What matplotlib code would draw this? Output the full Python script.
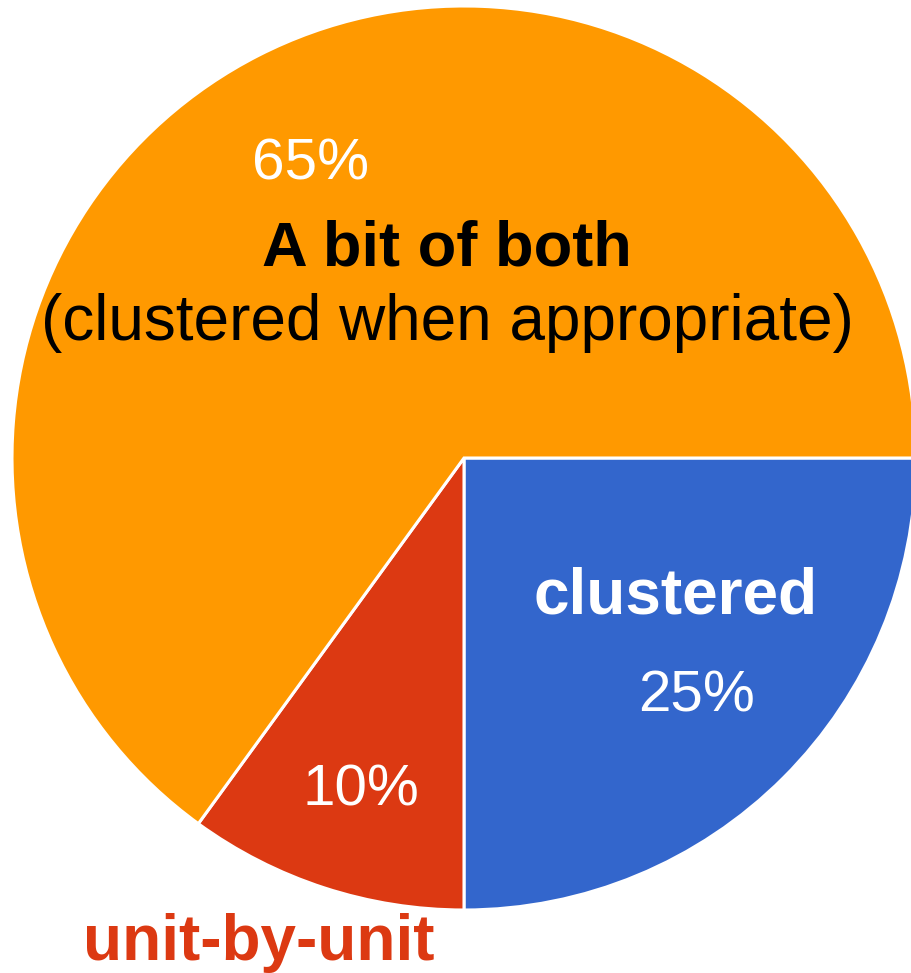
#!/usr/bin/env python3
"""
Pie chart: clustered vs unit-by-unit vs a bit of both.
"""
import matplotlib.pyplot as plt

plt.rcParams["font.family"] = ["Liberation Sans", "DejaVu Sans"]

categories = ["clustered", "unit-by-unit", "A bit of both"]
shares = [25, 10, 65]
colors = ["#3366CC", "#DC3912", "#FF9900"]

# pixel geometry of the reference: centre (464, 458), radius 452
CX, CY, R = 464, 458, 452
W, H = 911, 973


def px(x, y):
    return (x - CX) / R, (CY - y) / R


fig = plt.figure(figsize=(W / 100, H / 100), dpi=100)
ax = fig.add_axes([0, 0, 1, 1])
wedges, _ = ax.pie(shares, colors=colors, startangle=0, counterclock=False,
                   radius=1.0, wedgeprops=dict(edgecolor="white", linewidth=2.2))
ax.set_xlim(-CX / R, (W - CX) / R)
ax.set_ylim((CY - H) / R, CY / R)
ax.set_aspect("equal")
ax.axis("off")

# percentage labels
pct_pos = {"clustered": (697, 712), "unit-by-unit": (361, 806), "A bit of both": (311, 180)}
for cat, val in zip(categories, shares):
    x, y = px(*pct_pos[cat])
    ax.text(x, y, f"{val}%", color="white", fontsize=42, ha="center", va="baseline")

# category labels
x, y = px(447, 265)
ax.text(x, y, "A bit of both", fontsize=45.5, fontweight="bold", color="black",
        ha="center", va="baseline")
x, y = px(447, 340)
ax.text(x, y, "(clustered when appropriate)", fontsize=46, color="black",
        ha="center", va="baseline")
x, y = px(676, 613)
ax.text(x, y, "clustered", fontsize=46, fontweight="bold", color="white",
        ha="center", va="baseline")
x, y = px(259, 960)
ax.text(x, y, "unit-by-unit", fontsize=46, fontweight="bold", color="#DC3912",
        ha="center", va="baseline")

fig.savefig("out.png", dpi=100)
